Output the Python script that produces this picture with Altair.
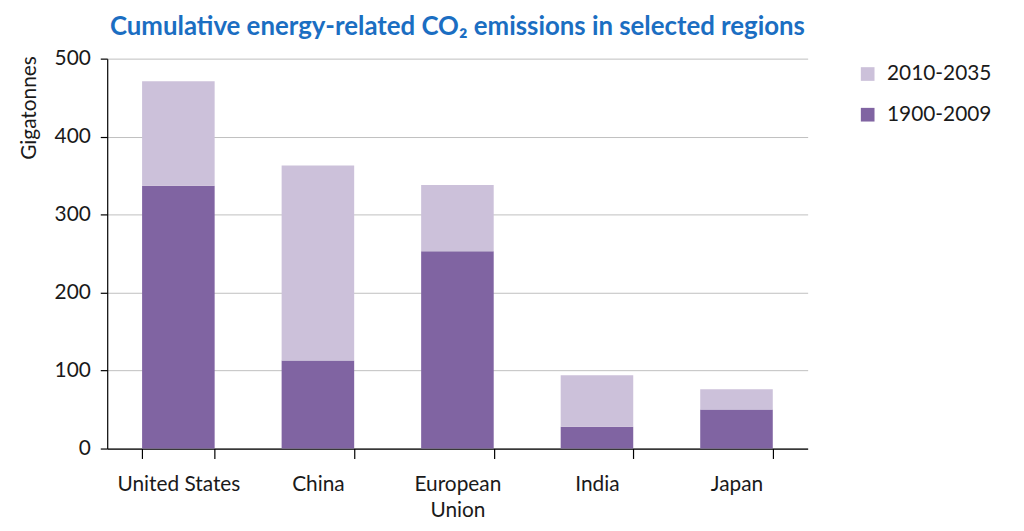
import altair as alt
import pandas as pd

regions = ["United States", "China", "European Union", "India", "Japan"]
hist_1900_2009 = [337, 113, 253, 28, 50]
proj_2010_2035 = [134, 250, 85, 66, 26]
periods = ["2010-2035", "1900-2009"]
colors = ["#ccc1da", "#8064a2"]

rows = []
for r, h, p in zip(regions, hist_1900_2009, proj_2010_2035):
    rows.append({"region": r, "period": "1900-2009", "value": h, "order": 0})
    rows.append({"region": r, "period": "2010-2035", "value": p, "order": 1})
df = pd.DataFrame(rows)

FONT = "Lato"

bars = alt.Chart(df).mark_bar().encode(
    x=alt.X("region:N", sort=regions, title=None,
            scale=alt.Scale(paddingInner=0.48, paddingOuter=0.25),
            axis=alt.Axis(labelAngle=0, tickBand="extent", tickSize=10,
                          tickColor="#000000", domainColor="#000000",
                          labelFontSize=21, labelColor="#1a1a1a", labelFont=FONT,
                          labelPadding=15, labelBaseline="top", labelLineHeight=27,
                          labelExpr="datum.label == 'European Union' ? ['European', 'Union'] : datum.label")),
    y=alt.Y("value:Q", stack="zero",
            scale=alt.Scale(domain=[0, 500]),
            axis=alt.Axis(values=[0, 100, 200, 300, 400, 500], tickSize=7,
                          tickColor="#000000", domainColor="#000000",
                          gridColor="#bfbfbf", labelFontSize=21, labelFont=FONT,
                          labelColor="#1a1a1a", labelPadding=10,
                          title="Gigatonnes", titleFont=FONT, titleFontSize=21,
                          titleFontWeight="normal", titleColor="#1a1a1a",
                          titleAngle=-90, titleX=-78, titleY=-3,
                          titleAlign="right", titleBaseline="middle")),
    color=alt.Color("period:N", scale=alt.Scale(domain=periods, range=colors),
                    legend=alt.Legend(title=None, orient="none", legendX=756, legendY=5,
                                      symbolType="square", symbolSize=190,
                                      symbolStrokeWidth=0,
                                      labelFont=FONT, labelFontSize=21,
                                      labelColor="#1a1a1a", rowPadding=19,
                                      labelOffset=9)),
    order=alt.Order("order:Q", sort="ascending"),
)

chart = bars.properties(
    width=706, height=393,
    title=alt.TitleParams("Cumulative energy-related CO₂ emissions in selected regions",
                          font=FONT, fontSize=26, fontWeight="bold",
                          color="#1b6ec2", anchor="middle", offset=8),
    autosize=alt.AutoSizeParams(type="none"),
    padding={"left": 100, "top": 49, "right": 210, "bottom": 73},
).configure_view(stroke=None).configure_axis(domainWidth=1.2, tickWidth=1.2)

chart.save("out.html", embed_options={"renderer": "svg", "actions": False})
